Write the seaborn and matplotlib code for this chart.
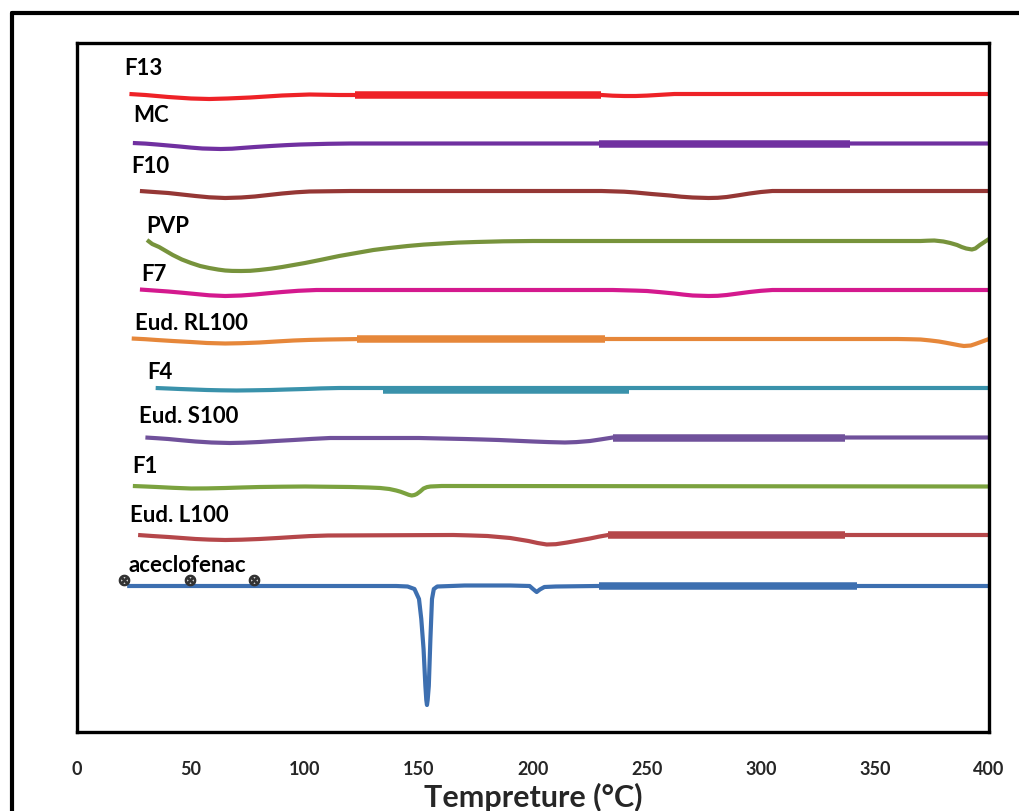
import numpy as np
import pandas as pd
import matplotlib
matplotlib.use("Agg")
import matplotlib.pyplot as plt
from matplotlib.lines import Line2D
import seaborn as sns

# ---------------- data (temperature in °C, heat flow in arbitrary units) -------------
names = ["F13", "MC", "F10", "PVP", "F7", "Eud. RL100", "F4", "Eud. S100",
         "F1", "Eud. L100", "aceclofenac"]

offsets = [638, 589, 541, 491, 442, 393, 344, 294.5, 245.5, 197, 146]

T_F13 = [23, 30, 40, 50, 58, 66, 76, 90, 102, 115, 230, 235, 240, 245, 250, 256, 262, 280, 400]
H_F13 = [0, -1, -3, -4.5, -5, -4.5, -3.5, -1.5, -0.5, -1, -1, -1.7, -2, -2, -1.6, -0.8, 0, 0, 0]

T_MC = [24.5, 30, 35, 40, 45, 50, 55, 63, 68, 72, 78, 85, 92, 98, 110, 120, 400]
H_MC = [0, -0.6, -1.5, -2.5, -3.5, -4.6, -5.5, -6, -5.7, -5, -4, -3, -2.1, -1.5, -0.8, -0.5, -0.5]

T_F10 = [27.6, 35, 40, 46, 52, 58, 65, 72, 78, 84, 90, 96, 102, 120, 230, 240, 245, 252,
         260, 265, 270, 277, 281, 285, 290, 295, 300, 305, 400]
H_F10 = [0, -1.2, -2, -3.5, -5, -6.3, -7, -6.5, -5.5, -4, -2.5, -1.3, -0.5, 0, 0, -0.7,
         -1.5, -3, -4.5, -5.7, -6.5, -7, -6.8, -6, -4.3, -2.5, -1, 0, 0]

T_PVP = [30.7, 33, 36, 39, 42, 46, 50, 54, 58, 62, 65, 68, 72, 76, 80, 85, 90, 95, 100,
         107, 115, 122, 130, 137, 145, 152, 160, 167, 175, 187, 200, 300, 370, 373, 376,
         380, 383, 386, 388, 390, 392.5, 394, 396, 398, 400]
H_PVP = [1, -3, -6, -10, -14, -18.5, -22, -25, -27, -28.6, -29.5, -29.9, -30, -29.8, -29,
         -27.7, -26, -24, -22, -18.8, -15, -12.2, -9, -7, -5, -3.6, -2.5, -1.6, -1, -0.3,
         0, 0, 0, 0.3, 0.5, -0.5, -2, -4, -6, -7.5, -8.5, -7.5, -4, -1, 2]

T_F7 = [27.6, 35, 40, 46, 52, 58, 65, 72, 78, 84, 90, 97, 105, 120, 235, 245, 250, 256,
        262, 266, 270, 277, 281, 285, 290, 295, 300, 305, 400]
H_F7 = [0.5, -0.7, -1.5, -2.7, -4, -5.3, -6, -5.5, -4.5, -3.2, -2, -0.8, 0, 0, 0, -0.6,
        -1, -2.2, -3.5, -4.6, -5.5, -6, -5.8, -5, -3.5, -2, -0.8, 0, 0]

T_RL100 = [24, 30, 35, 42, 50, 57, 65, 72, 80, 88, 95, 102, 110, 125, 360, 365, 370, 374,
           378, 381, 384, 387, 389, 392, 394, 397, 400]
H_RL100 = [0.5, -0.2, -1, -2, -3, -4, -4.5, -4.2, -3.5, -2.4, -1.5, -0.9, -0.5, 0, 0, -0.2,
           -0.5, -1.4, -2.5, -3.7, -5, -6.3, -7, -6.5, -5, -2.5, 0]

T_F4 = [34.5, 40, 45, 51, 57, 63, 70, 77, 85, 92, 100, 107, 115, 400]
H_F4 = [0, -0.5, -1, -1.5, -2, -2.3, -2.5, -2.3, -2, -1.5, -1, -0.4, 0, 0]

T_S100 = [30, 35, 40, 46, 52, 59, 67, 73, 80, 87, 95, 103, 111, 150, 160, 170, 178, 185,
          193, 200, 207, 214, 219, 225, 230, 235, 400]
H_S100 = [0, -0.7, -1.5, -2.8, -4, -5, -5.5, -5.2, -4.5, -3.5, -2.5, -1.4, -0.5, -0.5,
          -1, -1.5, -2, -2.5, -3.3, -4, -4.6, -5, -4.6, -3.5, -1.8, 0, 0]

T_F1 = [24.5, 30, 35, 42, 50, 57, 65, 72, 80, 90, 100, 120, 128, 133, 137, 140, 142, 144,
        145.5, 146.8, 148, 149, 150.5, 152, 153.5, 155, 160, 400]
H_F1 = [0.5, 0, -0.5, -1.3, -2, -1.9, -1.5, -1, -0.5, -0.2, 0, -0.5, -1, -1.5, -2.5, -4,
        -5.3, -7, -8.3, -9, -8.5, -7.5, -5, -2, -0.6, 0, 0.5, 0]

T_L100 = [26.8, 33, 40, 46, 52, 58, 65, 72, 80, 88, 95, 102, 110, 165, 172, 180, 185, 190,
          194, 198, 202, 206, 210, 215, 220, 225, 229, 233, 400]
H_L100 = [0, -1, -2, -3, -4, -4.6, -5, -4.7, -4, -3, -2, -1.1, -0.5, 0, -0.4, -1, -2, -3,
          -4.5, -6, -8, -9.5, -9.2, -7.5, -5.5, -3.5, -1.6, 0, 0]

T_ACE = [22, 60, 100, 140, 145, 148, 150, 151, 152, 152.8, 153.2, 153.5, 153.8, 154.3,
         155, 155.7, 156.5, 158, 170, 190, 198.5, 200, 201.6, 203, 205, 210, 228, 400]
H_ACE = [0, 0, 0, 0, -0.5, -3, -13, -33, -63, -100, -114, -119, -114, -100,
         -53, -13, -3, -0.5, 0.5, 0.5, 0, -3, -6, -3.5, -1, -0.5, 0, 0]

curves_T = [T_F13, T_MC, T_F10, T_PVP, T_F7, T_RL100, T_F4, T_S100, T_F1, T_L100, T_ACE]
curves_H = [H_F13, H_MC, H_F10, H_PVP, H_F7, H_RL100, H_F4, H_S100, H_F1, H_L100, H_ACE]

# thicker overlapping segments (start T, end T, deviation)
thick_segments = {
    "F13": (122, 230, -1),
    "MC": (229, 339, -0.5),
    "Eud. RL100": (123, 231.6, 0),
    "F4": (134, 242, -1.5),
    "Eud. S100": (235, 337, 0),
    "Eud. L100": (233, 337, 0),
    "aceclofenac": (229, 342, 0),
}

# stray markers on aceclofenac trace
marker_T = [20.6, 49.6, 77.6]
marker_H = [6, 6, 6]

colors = ["#EE2227", "#7030A0", "#953735", "#77933C", "#D4198E", "#E6873A",
          "#3A92AB", "#70519B", "#7BA23F", "#B5474A", "#3D6FB0"]

# label anchor positions (T, heat flow)
label_pos = [(20.6, 658), (24.6, 611), (23.7, 560), (30.3, 500), (28, 452),
             (25.4, 403), (31, 354), (27.2, 310), (24.1, 260), (23.2, 211), (22.4, 160.5)]

xticks = [0, 50, 100, 150, 200, 250, 300, 350, 400]

# ---------------- plot ----------------
sns.set_style("white")
plt.rcParams["font.family"] = ["Lato", "DejaVu Sans"]

fig = plt.figure(figsize=(10.2, 8.12), dpi=100)
ax = fig.add_axes([77 / 1020, 1 - 733 / 812, 912 / 1020, 689 / 812])

for name, T, H, off, col in zip(names, curves_T, curves_H, offsets, colors):
    df = pd.DataFrame({"T": T, "HF": np.array(H) + off})
    sns.lineplot(data=df, x="T", y="HF", ax=ax, color=col, lw=3.0,
                 estimator=None, sort=False, solid_capstyle="butt",
                 solid_joinstyle="round")
    if name in thick_segments:
        t0, t1, d = thick_segments[name]
        dft = pd.DataFrame({"T": [t0, t1], "HF": [off + d, off + d]})
        sns.lineplot(data=dft, x="T", y="HF", ax=ax, color=col, lw=5.4,
                     estimator=None, sort=False, solid_capstyle="butt")

ace_off = offsets[names.index("aceclofenac")]
ax.scatter(marker_T, np.array(marker_H) + ace_off, marker=r"$\otimes$", s=55,
           color="#333333", zorder=5, clip_on=False)

for name, (tx, hy) in zip(names, label_pos):
    ax.text(tx, hy, name, fontsize=16, fontweight="bold", ha="left",
            va="baseline", color="black")

ax.set_xlim(0, 400)
ax.set_ylim(0, 689)
ax.set_xticks(xticks)
ax.set_xticklabels([str(t) for t in xticks], fontsize=13, fontweight="bold")
ax.set_yticks([])
ax.tick_params(axis="x", direction="out", length=8, width=1, color="#888888", pad=12)
ax.set_xlabel("Tempreture (°C)", fontsize=22, fontweight="bold", labelpad=4)
ax.set_ylabel("")
for s in ax.spines.values():
    s.set_visible(True)
    s.set_color("black")
    s.set_linewidth(2.4)

# outer frame
fig.add_artist(Line2D([12 / 1020, 12 / 1020], [0, 1 - 14 / 812], transform=fig.transFigure,
                      color="black", lw=3))
fig.add_artist(Line2D([12 / 1020, 1], [1 - 14 / 812, 1 - 14 / 812], transform=fig.transFigure,
                      color="black", lw=3))

fig.savefig("out.png", dpi=100)
